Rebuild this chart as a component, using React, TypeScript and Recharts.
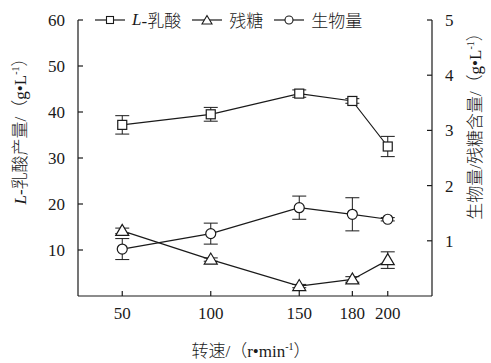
import { LineChart, Line, XAxis, YAxis, ErrorBar, Legend, Label } from "recharts";

const speeds = [50, 100, 150, 180, 200];
const lacticAcid = [37.2, 39.5, 44.0, 42.4, 32.5];
const lacticAcidErr = [2.0, 1.5, 0.8, 0.5, 2.2];
const residualSugar = [1.18, 0.66, 0.18, 0.3, 0.65];
const residualSugarErr = [0.05, 0.03, 0.03, 0.05, 0.15];
const biomass = [0.85, 1.13, 1.6, 1.48, 1.39];
const biomassErr = [0.19, 0.19, 0.21, 0.3, 0.03];
const leftTicks = [10, 20, 30, 40, 50, 60];
const rightTicks = [1, 2, 3, 4, 5];

const data = speeds.map((s, i) => ({
  speed: s,
  lac: lacticAcid[i],
  lacErr: lacticAcidErr[i],
  sugar: residualSugar[i],
  sugarErr: residualSugarErr[i],
  bio: biomass[i],
  bioErr: biomassErr[i],
}));

const FONT = "'Liberation Serif', 'Noto Sans CJK SC', serif";
const INK = "#1a1a1a";

function Square(props: any) {
  const { cx, cy } = props;
  return <rect key={`sq-${cx}`} x={cx - 4.5} y={cy - 4.5} width={9} height={9} fill="#fff" stroke={INK} strokeWidth={1.2} />;
}
function Triangle(props: any) {
  const { cx, cy } = props;
  return (
    <polygon
      key={`tr-${cx}`}
      points={`${cx},${cy - 6.5} ${cx - 6.5},${cy + 4.5} ${cx + 6.5},${cy + 4.5}`}
      fill="#fff"
      stroke={INK}
      strokeWidth={1.2}
    />
  );
}
function Circle(props: any) {
  const { cx, cy } = props;
  return <circle key={`ci-${cx}`} cx={cx} cy={cy} r={5} fill="#fff" stroke={INK} strokeWidth={1.2} />;
}

function LegendIcon({ kind }: { kind: string }) {
  return (
    <svg width={32} height={12} style={{ marginRight: 6 }}>
      <line x1={1} y1={6} x2={31} y2={6} stroke={INK} strokeWidth={1.2} />
      {kind === "sq" && <rect x={12.5} y={2.5} width={7} height={7} fill="#fff" stroke={INK} strokeWidth={1.1} />}
      {kind === "tr" && <polygon points="16,1.5 11,10 21,10" fill="#fff" stroke={INK} strokeWidth={1.1} />}
      {kind === "ci" && <circle cx={16} cy={6} r={4} fill="#fff" stroke={INK} strokeWidth={1.1} />}
    </svg>
  );
}

function LegendContent() {
  const item = { display: "flex", alignItems: "center", marginRight: 10 } as const;
  return (
    <div style={{ display: "flex", fontFamily: FONT, fontSize: 17, fontWeight: 300, color: INK, whiteSpace: "nowrap" }}>
      <span style={item}>
        <LegendIcon kind="sq" />
        <i>L</i>-乳酸
      </span>
      <span style={item}>
        <LegendIcon kind="tr" />
        残糖
      </span>
      <span style={item}>
        <LegendIcon kind="ci" />
        生物量
      </span>
    </div>
  );
}

const LeftTitle = () => (
  <text x={26} y={127} transform="rotate(-90 26 127)" textAnchor="middle" fontFamily={FONT} fontSize={17} fontWeight={300} fill={INK}>
    <tspan fontStyle="italic">L</tspan>
    <tspan>-乳酸产量/（g•L</tspan>
    <tspan fontSize={10} dy={-7}>-1</tspan>
    <tspan dy={7}>）</tspan>
  </text>
);

const RightTitle = () => (
  <text x={481} y={122} transform="rotate(-90 481 122)" textAnchor="middle" fontFamily={FONT} fontSize={17} fontWeight={300} fill={INK}>
    <tspan>生物量/残糖含量/（g•L</tspan>
    <tspan fontSize={10} dy={-7}>-1</tspan>
    <tspan dy={7}>）</tspan>
  </text>
);

const BottomTitle = () => (
  <text x={251} y={357} textAnchor="middle" fontFamily={FONT} fontSize={17} fontWeight={300} fill={INK}>
    <tspan>转速/（r•min</tspan>
    <tspan fontSize={10} dy={-7}>-1</tspan>
    <tspan dy={7}>）</tspan>
  </text>
);

export default function App() {
  const tick = { fontFamily: FONT, fontSize: 17, fill: INK };
  const axisLine = { stroke: INK, strokeWidth: 1.2 };
  return (
    <div style={{ position: "absolute", left: 0, top: 0, background: "#fff" }}>
      <LineChart width={491} height={363} data={data} margin={{ top: 20, right: 0, bottom: 0, left: 0 }}>
        <XAxis
          dataKey="speed"
          type="number"
          domain={[25, 225]}
          ticks={speeds}
          height={67}
          tickSize={-5}
          tickMargin={16}
          tick={tick}
          axisLine={axisLine}
          tickLine={axisLine}
        >
          <Label content={BottomTitle} />
        </XAxis>
        <YAxis
          yAxisId="left"
          domain={[0, 60]}
          ticks={leftTicks}
          width={78}
          tickSize={-5}
          tickMargin={18}
          tick={tick}
          axisLine={axisLine}
          tickLine={axisLine}
        >
          <Label content={LeftTitle} />
        </YAxis>
        <YAxis
          yAxisId="right"
          orientation="right"
          domain={[0, 5]}
          ticks={rightTicks}
          width={59}
          tickSize={-5}
          tickMargin={18}
          tick={{ ...tick, textAnchor: "start" }}
          axisLine={axisLine}
          tickLine={axisLine}
        >
          <Label content={RightTitle} />
        </YAxis>
        <Legend
          layout="horizontal"
          verticalAlign="middle"
          align="center"
          content={<LegendContent />}
          wrapperStyle={{ top: 7, left: 94, width: "auto", height: "auto" }}
        />
        <Line
          yAxisId="left"
          dataKey="lac"
          name="L-乳酸"
          stroke={INK}
          strokeWidth={1.2}
          dot={Square}
          isAnimationActive={false}
        >
          <ErrorBar dataKey="lacErr" width={7} stroke={INK} strokeWidth={1} direction="y" />
        </Line>
        <Line
          yAxisId="right"
          dataKey="sugar"
          name="残糖"
          stroke={INK}
          strokeWidth={1.2}
          dot={Triangle}
          isAnimationActive={false}
        >
          <ErrorBar dataKey="sugarErr" width={7} stroke={INK} strokeWidth={1} direction="y" />
        </Line>
        <Line
          yAxisId="right"
          dataKey="bio"
          name="生物量"
          stroke={INK}
          strokeWidth={1.2}
          dot={Circle}
          isAnimationActive={false}
        >
          <ErrorBar dataKey="bioErr" width={7} stroke={INK} strokeWidth={1} direction="y" />
        </Line>
      </LineChart>
    </div>
  );
}
